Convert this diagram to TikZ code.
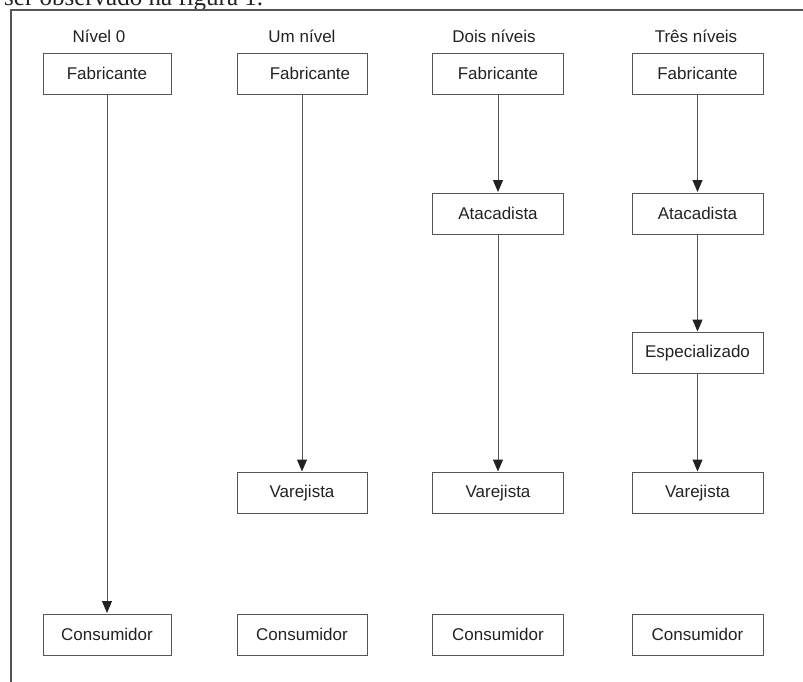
\documentclass[tikz,border=0pt]{standalone}
\usepackage{fontspec}
\setmainfont{Liberation Sans}
\newfontfamily\serifbody{Liberation Serif}
\usetikzlibrary{arrows.meta}
\definecolor{inkc}{HTML}{222222}
\definecolor{linec}{HTML}{555555}
\begin{document}
\begin{tikzpicture}[x=1pt,y=-1pt,
  box/.style={draw=linec, line width=1pt, text=inkc, minimum height=41pt, inner sep=0pt,
              font=\fontsize{17pt}{20pt}\selectfont},
  title/.style={text=inkc, font=\fontsize{17pt}{20pt}\selectfont, inner sep=0pt},
  arr/.style={draw=linec, line width=1pt, -{Triangle[length=12pt,width=10pt,color=inkc]}, shorten >=0.5pt}]
\useasboundingbox (0,0) rectangle (803,681);
\clip (0,0) rectangle (803,681);
% cropped body text and frame
\node[anchor=base west, inner sep=0pt, text=inkc, font=\serifbody\fontsize{25pt}{30pt}\selectfont] (body) at (4,5) {ser observado na figura 1.};
\draw[linec, line width=1.2pt] (11,690) -- (11,10) -- (810,10);
% titles
\node[title] (t1) at (99,36) {Nível 0};
\node[title] (t2) at (302,36) {Um nível};
\node[title] (t3) at (494,36) {Dois níveis};
\node[title] (t4) at (696,36) {Três níveis};
% column 1
\node[box, minimum width=128pt] (f1) at (107,73.5) {Fabricante};
\node[box, minimum width=128pt] (c1) at (107,634.5) {Consumidor};
% column 2
\node[box, minimum width=130pt] (f2) at (302,73.5) {\hspace*{16pt}Fabricante};
\node[box, minimum width=130pt] (v2) at (302,493) {Varejista};
\node[box, minimum width=130pt] (c2) at (302,634.5) {Consumidor};
% column 3
\node[box, minimum width=131pt] (f3) at (498,73.5) {Fabricante};
\node[box, minimum width=131pt] (a3) at (498,213.5) {Atacadista};
\node[box, minimum width=131pt] (v3) at (498,493) {Varejista};
\node[box, minimum width=131pt] (c3) at (498,634.5) {Consumidor};
% column 4
\node[box, minimum width=131pt] (f4) at (697.5,73.5) {Fabricante};
\node[box, minimum width=131pt] (a4) at (697.5,213.5) {Atacadista};
\node[box, minimum width=131pt] (e4) at (697.5,353) {Especializado};
\node[box, minimum width=131pt] (v4) at (697.5,493) {Varejista};
\node[box, minimum width=131pt] (c4) at (697.5,634.5) {Consumidor};
% connectors
\draw[arr] (f1) -- (c1);
\draw[arr] (f2) -- (v2);
\draw[arr] (f3) -- (a3);
\draw[arr] (a3) -- (v3);
\draw[arr] (f4) -- (a4);
\draw[arr] (a4) -- (e4);
\draw[arr] (e4) -- (v4);
\end{tikzpicture}
\end{document}
